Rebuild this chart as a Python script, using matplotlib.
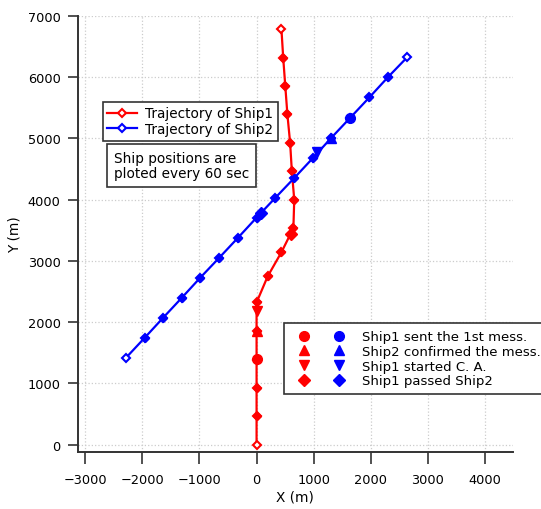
import numpy as np
import matplotlib
matplotlib.use('Agg')
import matplotlib.pyplot as plt
from matplotlib.legend_handler import HandlerTuple

plt.rcParams['font.family'] = ['DejaVu Sans']

# Ship1 positions (every 60 sec)
ship1_x = [0, 0, 0, 0, 0, 0, 194, 436, 645, 660, 618, 588, 540, 503, 467, 436]
ship1_y = [0, 467, 924, 1386, 1850, 2320, 2745, 3141, 3533, 4000, 4462, 4924, 5391, 5853, 6310, 6777]

# Ship2 positions (every 60 sec)
ship2_x = [-2291, -1958, -1636, -1309, -988, -655, -327, 0, 327, 661, 988, 1306, 1640, 1976, 2303, 2636]
ship2_y = [1413, 1745, 2071, 2397, 2723, 3049, 3375, 3705, 4027, 4353, 4679, 5005, 5335, 5668, 6000, 6321]

# events: sent 1st mess., confirmed, started C.A., passed
event_labels = ['Ship1 sent the 1st mess.', 'Ship2 confirmed the mess.',
                'Ship1 started C. A.', 'Ship1 passed Ship2']
event_markers = ['o', '^', 'v', 'D']
event_sizes = [7, 7, 7, 6.5]
ev1_x = [0, 0, 0, 600]
ev1_y = [1390, 1860, 2180, 3440]
ev2_x = [1640, 1310, 1060, 80]
ev2_y = [5335, 5010, 4770, 3780]

red = '#ff0000'
blue = '#0000ff'
fs = 9.8

fig = plt.figure(figsize=(5.41, 5.10), dpi=100)
ax = fig.add_axes([0.144, 0.112, 0.804, 0.855])

l1, = ax.plot(ship1_x, ship1_y, color=red, lw=1.6, marker='D', ms=3.6,
              mfc='white', mec=red, mew=1.5, label='Trajectory of Ship1', zorder=3)
l2, = ax.plot(ship2_x, ship2_y, color=blue, lw=1.6, marker='D', ms=3.6,
              mfc='white', mec=blue, mew=1.5, label='Trajectory of Ship2', zorder=3)
# inner positions look filled (line runs through the open marker)
ax.plot(ship1_x[1:-1], ship1_y[1:-1], ls='none', marker='D', ms=3.8, color=red, zorder=3)
ax.plot(ship2_x[1:-1], ship2_y[1:-1], ls='none', marker='D', ms=3.8, color=blue, zorder=3)

ev_handles = []
for i in range(4):
    h1, = ax.plot(ev1_x[i], ev1_y[i], ls='none', marker=event_markers[i],
                  ms=event_sizes[i], color=red, zorder=4)
    h2, = ax.plot(ev2_x[i], ev2_y[i], ls='none', marker=event_markers[i],
                  ms=event_sizes[i], color=blue, zorder=4)
    ev_handles.append((h1, h2))

ax.set_xlim(-3130, 4490)
ax.set_ylim(-120, 7000)
ax.set_xticks(np.arange(-3000, 4001, 1000))
ax.set_yticks(np.arange(0, 7001, 1000))
ax.grid(True, ls=':', color='#cccccc', lw=0.9)
ax.set_axisbelow(True)
for s in ['top', 'right']:
    ax.spines[s].set_visible(False)
for s in ['left', 'bottom']:
    ax.spines[s].set_color('#333333')
    ax.spines[s].set_linewidth(1.4)
ax.tick_params(direction='out', width=1.2, color='#333333', labelsize=9.3)
ax.tick_params(axis='x', length=8.5, pad=6.5)
ax.tick_params(axis='y', length=7, pad=5.5)
ax.set_xlabel('X (m)', fontsize=fs, labelpad=3)
ax.set_ylabel('Y (m)', fontsize=fs, labelpad=4)

leg1 = fig.legend(handles=[l1, l2], loc='upper left', bbox_to_anchor=(0.1895, 0.7986),
                  bbox_transform=fig.transFigure, borderaxespad=0, fontsize=fs,
                  fancybox=False, framealpha=1, edgecolor='#333333',
                  handlelength=2.2, handletextpad=0.6, borderpad=0.35, labelspacing=0.1)
leg1.get_frame().set_linewidth(1.2)

fig.text(0.2107, 0.6735, 'Ship positions are\nploted every 60 sec', fontsize=fs,
         va='center', ha='left', linespacing=1.15,
         bbox=dict(boxstyle='square,pad=0.5', fc='white', ec='#333333', lw=1.2))

# the reference legend runs past the right edge of the figure
leg2 = fig.legend(handles=ev_handles, labels=event_labels,
                  handler_map={tuple: HandlerTuple(ndivide=None, pad=0.63)},
                  loc='upper left', bbox_to_anchor=(0.525, 0.364),
                  bbox_transform=fig.transFigure, borderaxespad=0, fontsize=9.5,
                  fancybox=False, framealpha=1, edgecolor='#333333',
                  handlelength=4.65, handletextpad=0.72, borderpad=0.52, labelspacing=0.13)
leg2.get_frame().set_linewidth(1.2)

fig.savefig('out.png', dpi=100)
